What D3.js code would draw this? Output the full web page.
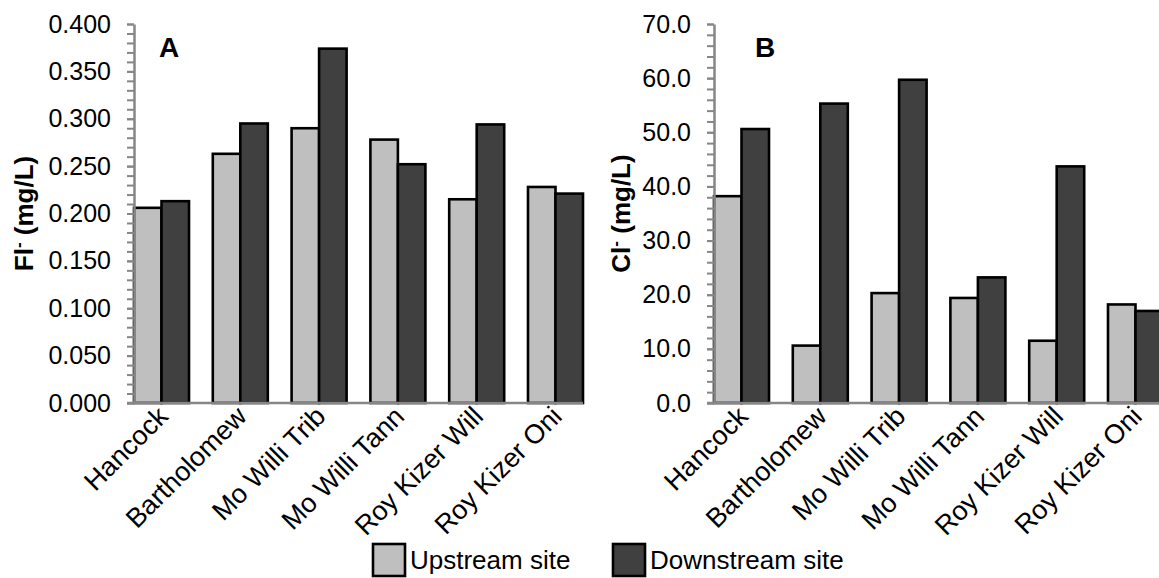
<!DOCTYPE html>
<html>
<head>
<meta charset="utf-8">
<script src="https://cdn.jsdelivr.net/npm/d3@7"></script>
<style>
  html, body { margin: 0; padding: 0; background: #fff; }
  svg { display: block; font-family: "Liberation Sans", Arial, sans-serif; }
</style>
</head>
<body>
<svg id="chart" width="1159" height="578"></svg>
<script>
// Sampling sites along the x axis
const sites = ["Hancock", "Bartholomew", "Mo Willi Trib", "Mo Willi Tann", "Roy Kizer Will", "Roy Kizer Oni"];
const seriesNames = ["Upstream site", "Downstream site"];

// Fluoride (mg/L)
const fluorideUp   = [0.206, 0.263, 0.290, 0.278, 0.215, 0.228];
const fluorideDown = [0.213, 0.295, 0.374, 0.252, 0.294, 0.221];

// Chloride (mg/L)
const chlorideUp   = [38.2, 10.6, 20.3, 19.4, 11.5, 18.2];
const chlorideDown = [50.6, 55.3, 59.7, 23.2, 43.7, 17.0];

const fluorideTicks = [0, 0.05, 0.1, 0.15, 0.2, 0.25, 0.3, 0.35, 0.4];
const chlorideTicks = [0, 10, 20, 30, 40, 50, 60, 70];

const colors = { up: "#bfbfbf", down: "#404040", axis: "#868686" };

const svg = d3.select("#chart");

function panel(opts) {
  const { x0, x1, yTop, yBot, max, minorStep, ticks, fmt, up, down, letter, letterX, ion, titleX } = opts;
  const g = svg.append("g");

  const x = d3.scaleBand().domain(sites).range([x0, x1]).paddingInner(0.302).paddingOuter(0).align(0);
  const y = d3.scaleLinear().domain([0, max]).range([yBot, yTop]);
  const sub = d3.scaleBand().domain(seriesNames).range([0, x.bandwidth()]);

  // bars
  const rows = sites.map((s, i) => ({ site: s, vals: [up[i], down[i]] }));
  const grp = g.selectAll("g.site").data(rows).join("g")
    .attr("transform", d => `translate(${x(d.site)},0)`);
  grp.selectAll("rect").data(d => d.vals.map((v, k) => ({ v, k }))).join("rect")
    .attr("x", d => sub(seriesNames[d.k]))
    .attr("y", d => y(d.v))
    .attr("width", sub.bandwidth())
    .attr("height", d => y(0) - y(d.v))
    .attr("fill", d => d.k === 0 ? colors.up : colors.down)
    .attr("stroke", "#000")
    .attr("stroke-width", 2.6);

  // minor ticks
  const minor = d3.range(0, max + minorStep / 2, minorStep);
  const minorAxis = g.append("g").attr("transform", `translate(${x0},0)`)
    .call(d3.axisLeft(y).tickValues(minor).tickSize(7).tickFormat(""));
  minorAxis.select(".domain").remove();
  minorAxis.selectAll("line").attr("stroke", colors.axis).attr("stroke-width", 2);

  // major ticks + labels
  const yAxis = g.append("g").attr("transform", `translate(${x0},0)`)
    .call(d3.axisLeft(y).tickValues(ticks).tickSize(7).tickSizeOuter(0).tickPadding(16).tickFormat(d3.format(fmt)));
  yAxis.select(".domain").attr("stroke", colors.axis).attr("stroke-width", 2.5);
  yAxis.selectAll("line").attr("stroke", colors.axis).attr("stroke-width", 2);
  yAxis.selectAll("text").attr("font-size", 25).attr("fill", "#000");

  // category baseline
  g.append("line")
    .attr("x1", x0 - 7).attr("x2", x1)
    .attr("y1", y(0)).attr("y2", y(0))
    .attr("stroke", colors.axis).attr("stroke-width", 2.5);

  // rotated site labels
  g.selectAll("text.site").data(sites).join("text")
    .attr("class", "site")
    .attr("text-anchor", "end")
    .attr("font-size", 27)
    .attr("transform", d => `translate(${x(d) + x.bandwidth() / 2 + 8},${y(0) + 15}) rotate(-45)`)
    .text(d => d);

  // panel letter
  g.append("text").attr("x", letterX).attr("y", 57)
    .attr("font-size", 28).attr("font-weight", "bold").text(letter);

  // y-axis title
  const t = g.append("text")
    .attr("transform", `translate(${titleX},${(yTop + yBot) / 2}) rotate(-90)`)
    .attr("text-anchor", "middle")
    .attr("font-size", 26).attr("font-weight", "bold");
  t.append("tspan").text(ion);
  t.append("tspan").attr("font-size", 17).attr("baseline-shift", "super").text("-");
  t.append("tspan").text(" (mg/L)");
}

panel({ x0: 134, x1: 583, yTop: 24, yBot: 403, max: 0.4, minorStep: 0.01,
  ticks: fluorideTicks, fmt: ".3f", up: fluorideUp, down: fluorideDown,
  letter: "A", letterX: 159, ion: "Fl", titleX: 33 });

panel({ x0: 714, x1: 1163, yTop: 24, yBot: 403, max: 70, minorStep: 2,
  ticks: chlorideTicks, fmt: ".1f", up: chlorideUp, down: chlorideDown,
  letter: "B", letterX: 755, ion: "Cl", titleX: 630 });

// legend
const legend = svg.append("g");
const legendItems = [
  { name: seriesNames[0], color: colors.up, bx: 373 },
  { name: seriesNames[1], color: colors.down, bx: 613 }
];
legendItems.forEach(it => {
  legend.append("rect").attr("x", it.bx).attr("y", 544).attr("width", 32).attr("height", 32)
    .attr("fill", it.color).attr("stroke", "#000").attr("stroke-width", 2.6);
  legend.append("text").attr("x", it.bx + 37).attr("y", 569)
    .attr("font-size", 26).text(it.name);
});
</script>
</body>
</html>
